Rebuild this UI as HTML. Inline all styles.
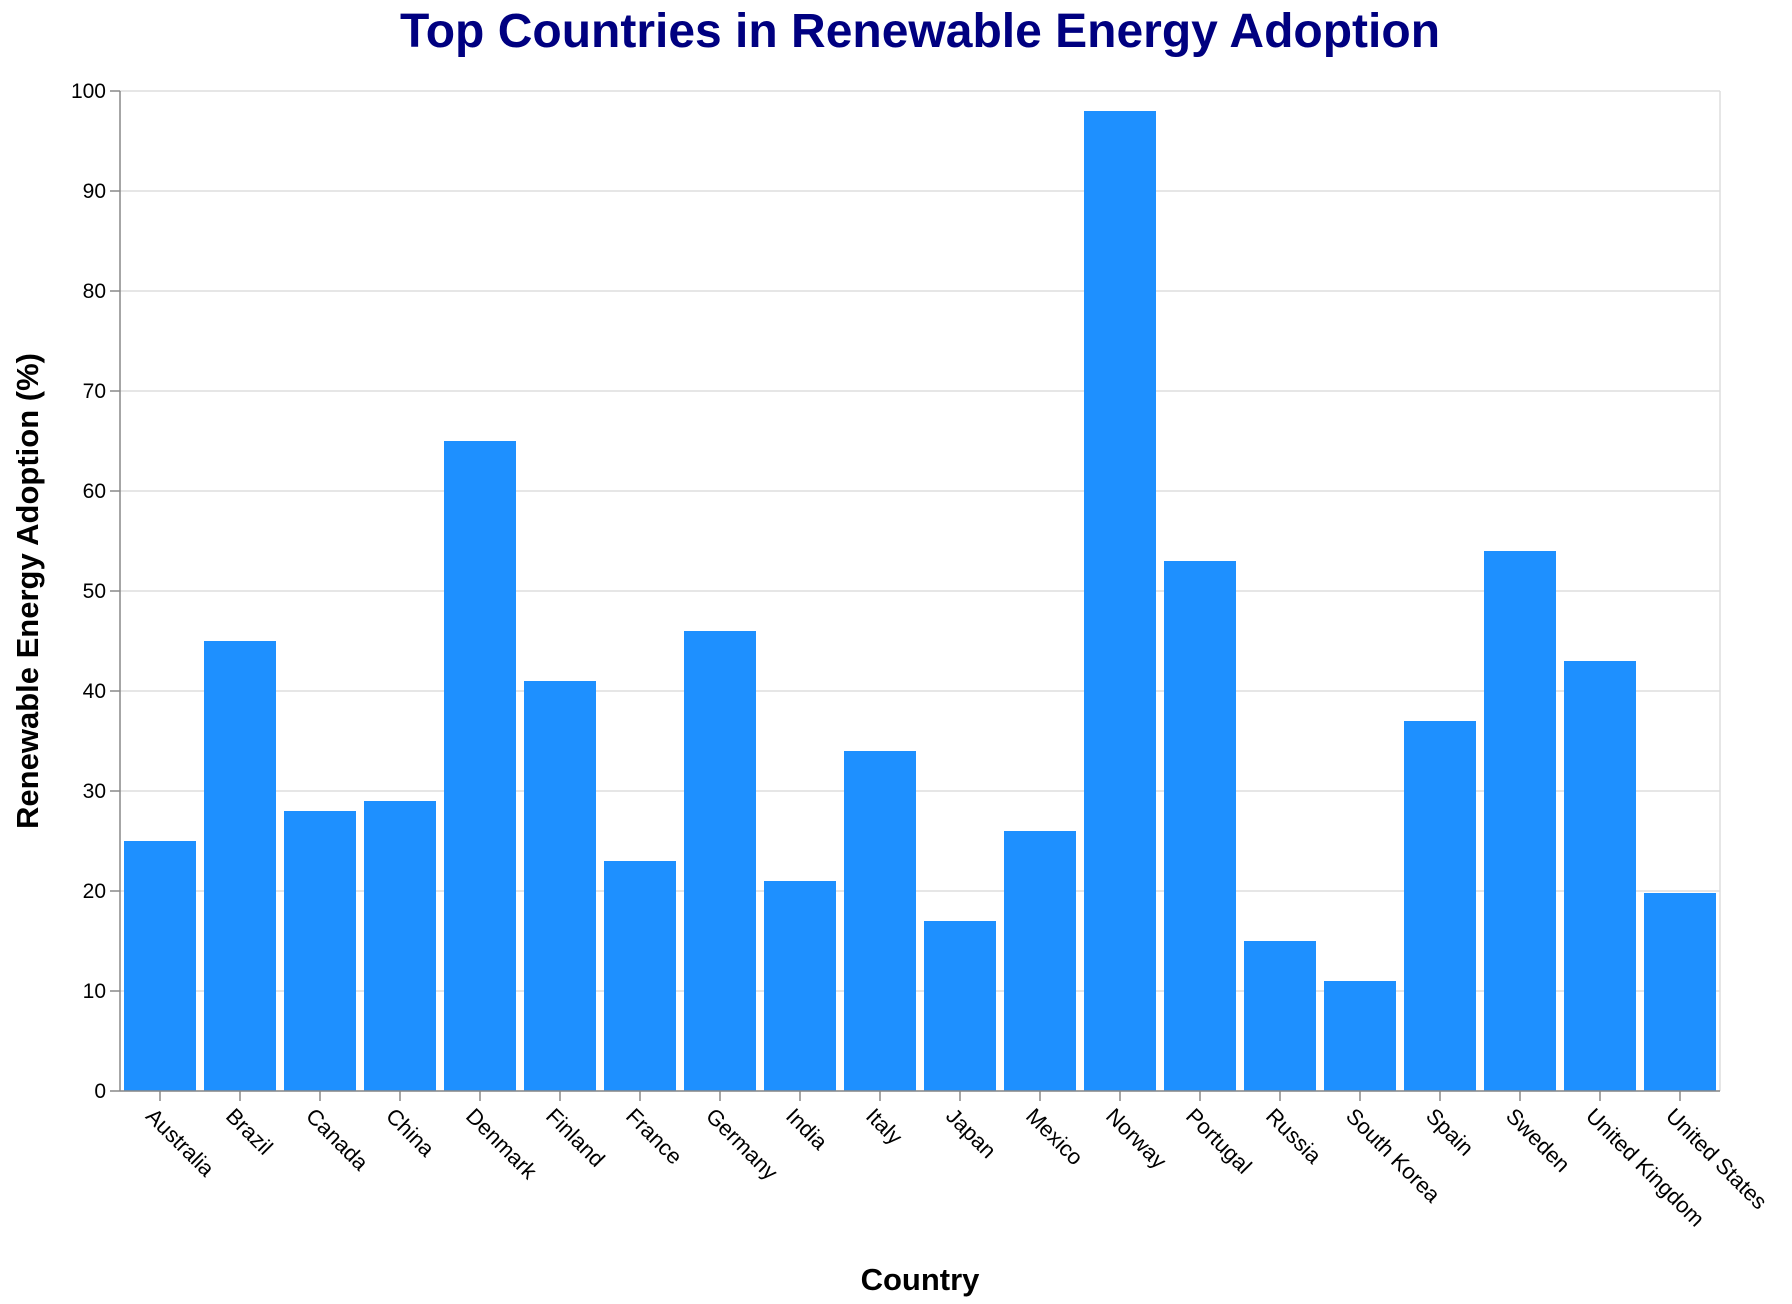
<!DOCTYPE html>
<html><head><meta charset="utf-8"><style>
html,body{margin:0;padding:0;background:#fff;}
svg{display:block;font-family:"Liberation Sans",Arial,sans-serif;}
</style></head><body>
<svg id="chart" width="1792" height="1304" viewBox="0 0 1792 1304" xmlns="http://www.w3.org/2000/svg">
<text x="920" y="47" text-anchor="middle" font-size="48" font-weight="bold" fill="#000080">Top Countries in Renewable Energy Adoption</text>
<g id="grid"></g>
<g id="bars"></g>
<g id="axes"></g>
<text transform="translate(38,591) rotate(-90)" text-anchor="middle" font-size="31" font-weight="bold" fill="#000">Renewable Energy Adoption (%)</text>
<text x="920" y="1290" text-anchor="middle" font-size="31" font-weight="bold" fill="#000">Country</text>
</svg>
<script>
const categories = ["Australia","Brazil","Canada","China","Denmark","Finland","France","Germany","India","Italy","Japan","Mexico","Norway","Portugal","Russia","South Korea","Spain","Sweden","United Kingdom","United States"];
const values = [25,45,28,29,65,41,23,46,21,34,17,26,98,53,15,11,37,54,43,19.8];
const yTicks = [0,10,20,30,40,50,60,70,80,90,100];

const NS = "http://www.w3.org/2000/svg";
const L = 120, R = 1720, T = 91, B = 1091;
const band = (R - L) / categories.length;
const pad = 0.1;
function xScale(i){ return L + i * band; }
function yScale(v){ return B - (v / 100) * (B - T); }
function mk(tag, attrs, parent){ const e = document.createElementNS(NS, tag); for (const k in attrs) e.setAttribute(k, attrs[k]); parent.appendChild(e); return e; }

const grid = document.getElementById('grid');
const bars = document.getElementById('bars');
const axes = document.getElementById('axes');

yTicks.forEach(t => {
  const y = yScale(t);
  const g = mk('line', {x1: L, x2: R, y1: y, y2: y, stroke: '#dddddd', 'stroke-width': 1.5}, grid);
  
  
  const tk = mk('line', {x1: L - 10, x2: L, y1: y, y2: y, stroke: '#888', 'stroke-width': 1.5}, axes);
  
  
  const lb = mk('text', {x: L - 14, y: y + 7, 'text-anchor': 'end', 'font-size': 21, fill: '#000'}, axes);
  lb.textContent = t;
  
  
});
const rb = mk('line', {x1: R, x2: R, y1: T, y2: B, stroke: '#dddddd', 'stroke-width': 1.5}, grid);



categories.forEach((c, i) => {
  const x0 = xScale(i) + band * pad / 2;
  const w = band * (1 - pad);
  const y = yScale(values[i]);
  const r = mk('rect', {x: x0, y: y, width: w, height: B - y, fill: '#1e90ff'}, bars);
  
  
  const cx = xScale(i) + band / 2;
  const tk = mk('line', {x1: cx, x2: cx, y1: B, y2: B + 10, stroke: '#888', 'stroke-width': 1.5}, axes);
  
  
  const lb = mk('text', {transform: 'translate(' + (cx - 4) + ',' + (B + 15) + ') rotate(45)', 'text-anchor': 'start', 'dominant-baseline': 'hanging', 'font-size': 22, fill: '#000'}, axes);
  lb.textContent = c;
  
  
});
const ya = mk('line', {x1: L, x2: L, y1: T, y2: B, stroke: '#888', 'stroke-width': 1.5}, axes);


const xa = mk('line', {x1: L, x2: R, y1: B, y2: B, stroke: '#888', 'stroke-width': 1.5}, axes);


</script>
</body></html>
